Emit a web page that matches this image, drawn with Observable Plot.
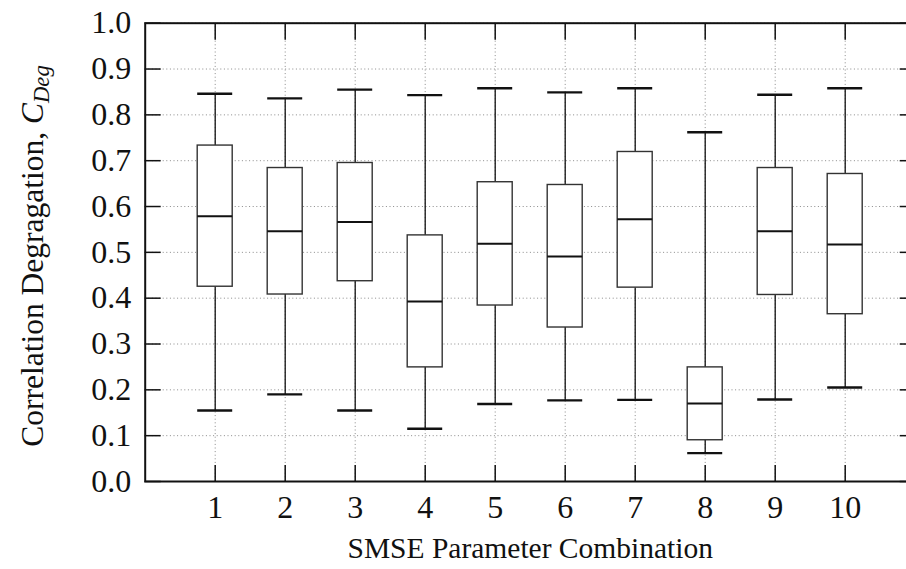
<!DOCTYPE html>
<html>
<head>
<meta charset="utf-8">
<script src="https://cdn.jsdelivr.net/npm/d3@7"></script>
<script src="https://cdn.jsdelivr.net/npm/@observablehq/plot@0.6"></script>
<style>
  html, body { margin: 0; padding: 0; background: white; overflow: hidden; }
  #chart svg { overflow: hidden; }
</style>
</head>
<body>
<div id="chart"></div>
<script>
// ---- data ----
const categories = [1, 2, 3, 4, 5, 6, 7, 8, 9, 10];
const whiskerHigh = [0.846, 0.836, 0.855, 0.843, 0.858, 0.849, 0.858, 0.762, 0.844, 0.858];
const upperQuartile = [0.733, 0.684, 0.695, 0.537, 0.653, 0.647, 0.719, 0.249, 0.684, 0.671];
const medianValue = [0.579, 0.546, 0.566, 0.393, 0.519, 0.491, 0.572, 0.170, 0.546, 0.517];
const lowerQuartile = [0.425, 0.408, 0.437, 0.249, 0.384, 0.336, 0.423, 0.090, 0.407, 0.365];
const whiskerLow = [0.155, 0.190, 0.155, 0.115, 0.169, 0.177, 0.178, 0.062, 0.179, 0.205];
const yTicks = [0, 0.1, 0.2, 0.3, 0.4, 0.5, 0.6, 0.7, 0.8, 0.9, 1.0];
const xLabel = "SMSE Parameter Combination";
const yLabelMain = "Correlation Degragation, ";
const yLabelSym = "C";
const yLabelSub = "Deg";

const rows = categories.map((c, i) => ({
  cat: c, hi: whiskerHigh[i], q3: upperQuartile[i], med: medianValue[i],
  q1: lowerQuartile[i], lo: whiskerLow[i]
}));

const W = 906, H = 569;
const halfBox = 0.25;
const font = "'Liberation Serif', 'Times New Roman', serif";
const tickFs = 32;
const xTitleFs = 29.5;
const yTitleFs = 31.5;
const gridStyle = {stroke: "#8a8a8a", strokeWidth: 1, strokeDasharray: "1,2.6"};

const chart = Plot.plot({
  width: W,
  height: H,
  marginLeft: 144.7,
  marginRight: -8.7,
  marginTop: 22.7,
  marginBottom: 88,
  style: {fontFamily: font, background: "white", overflow: "hidden"},
  x: {type: "linear", domain: [0, 11], axis: null},
  y: {type: "linear", domain: [0, 1], axis: null},
  marks: [
    // grid
    Plot.ruleY(yTicks, {y: d => d, ...gridStyle}),
    Plot.ruleX(categories, {x: d => d, ...gridStyle}),
    // whiskers
    Plot.ruleX(rows, {x: "cat", y1: "q3", y2: "hi", stroke: "#111", strokeWidth: 1.3}),
    Plot.ruleX(rows, {x: "cat", y1: "lo", y2: "q1", stroke: "#111", strokeWidth: 1.3}),
    // caps
    Plot.ruleY(rows, {y: "hi", x1: d => d.cat - halfBox, x2: d => d.cat + halfBox, stroke: "#111", strokeWidth: 2.4}),
    Plot.ruleY(rows, {y: "lo", x1: d => d.cat - halfBox, x2: d => d.cat + halfBox, stroke: "#111", strokeWidth: 2.4}),
    // boxes
    Plot.rect(rows, {x1: d => d.cat - halfBox, x2: d => d.cat + halfBox, y1: "q1", y2: "q3",
      fill: "white", stroke: "#333", strokeWidth: 1.4}),
    // medians
    Plot.ruleY(rows, {y: "med", x1: d => d.cat - halfBox, x2: d => d.cat + halfBox, stroke: "#111", strokeWidth: 2}),
    // inward ticks on all sides
    Plot.axisY(yTicks, {anchor: "left", tickSize: 16, dx: 16, fill: "none", label: null, stroke: "#111", strokeWidth: 1.5}),
    Plot.axisY(yTicks, {anchor: "right", tickSize: 16, dx: -16, fill: "none", label: null, stroke: "#111", strokeWidth: 1.5}),
    Plot.axisX(categories, {anchor: "bottom", tickSize: 16, dy: -16, fill: "none", label: null, stroke: "#111", strokeWidth: 1.5}),
    Plot.axisX(categories, {anchor: "top", tickSize: 16, dy: 16, fill: "none", label: null, stroke: "#111", strokeWidth: 1.5}),
    // tick labels
    Plot.axisY(yTicks, {anchor: "left", tickSize: 0, tickPadding: 14, label: null,
      tickFormat: d => d.toFixed(1), fontSize: tickFs, fontFamily: font, fill: "#111"}),
    Plot.axisX(categories, {anchor: "bottom", tickSize: 0, tickPadding: 14, label: null,
      tickFormat: d => String(d), fontSize: tickFs, fontFamily: font, fill: "#111"}),
    // frame
    Plot.frame({stroke: "#111", strokeWidth: 2}),
    // x axis title
    Plot.text([xLabel], {frameAnchor: "bottom", dx: 0, dy: 76, lineAnchor: "bottom",
      fontSize: xTitleFs, fontFamily: font, fill: "#111", text: d => d})
  ]
});

document.getElementById("chart").appendChild(chart);

// y axis title with italic symbol and subscript
const svg = d3.select(chart);
const yt = svg.append("text")
  .attr("transform", "translate(43,256) rotate(-90)")
  .attr("text-anchor", "middle")
  .attr("font-family", font)
  .attr("font-size", yTitleFs)
  .attr("fill", "#111");
yt.append("tspan").text(yLabelMain);
yt.append("tspan").attr("font-style", "italic").text(yLabelSym);
yt.append("tspan").attr("font-style", "italic").attr("font-size", yTitleFs * 0.72)
  .attr("baseline-shift", "-25%").text(yLabelSub);
</script>
</body>
</html>
